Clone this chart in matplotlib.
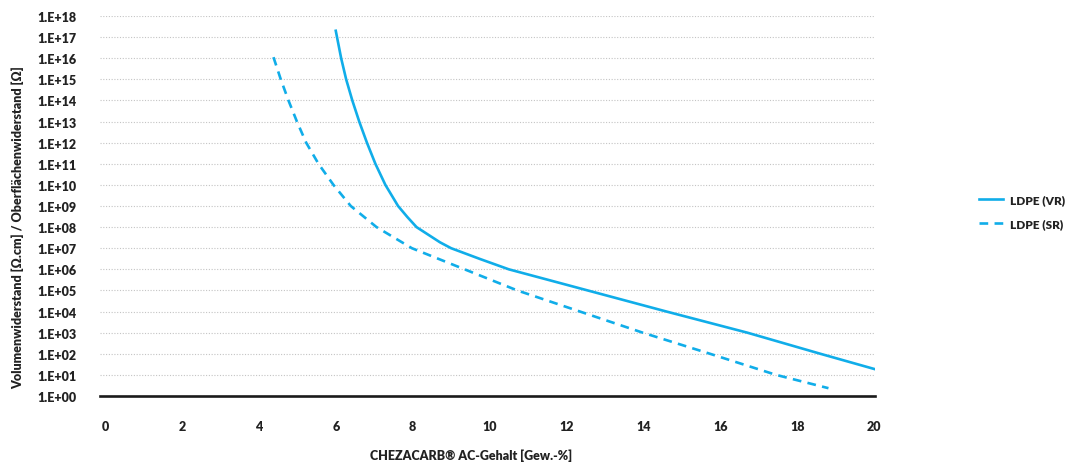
import numpy as np
import matplotlib.pyplot as plt
from matplotlib import font_manager

# LDPE volume resistivity (VR) and surface resistivity (SR) (log10 values)
vr_x = [6.0, 6.14, 6.27, 6.43, 6.61, 6.81, 7.03, 7.29, 7.62, 7.86, 8.1, 8.71, 9.0, 9.75, 10.5, 12.55, 14.6, 16.7, 18.6, 20.0]
vr_log = [17.3, 16, 15, 14, 13, 12, 11, 10, 9, 8.48, 8, 7.28, 7, 6.49, 6, 5, 4, 3, 2, 1.28]

sr_x = [4.38, 4.57, 4.77, 4.99, 5.23, 5.55, 5.94, 6.39, 7.06, 7.98, 9.35, 10.72, 12.35, 13.98, 15.73, 17.45, 18.81]
sr_log = [16.05, 15, 14, 13, 12, 11, 10, 9, 8, 7, 6, 5, 4, 3, 2, 1, 0.37]

x_ticks = [0, 2, 4, 6, 8, 10, 12, 14, 16, 18, 20]
y_exps = list(range(0, 19))
y_labels = ['1.E+%02d' % e for e in y_exps]

# pick a family that really has a bold face
family = 'DejaVu Sans'
for name in ['Lato', 'Roboto', 'Open Sans', 'Inter', 'Noto Sans']:
    try:
        f = font_manager.findfont(font_manager.FontProperties(family=name, weight='heavy'),
                                  fallback_to_default=False)
    except Exception:
        continue
    if any(k in f.lower() for k in ['bold', 'black', 'heavy']):
        family = name
        break

blue = '#10ade9'
plt.rcParams['font.family'] = [family, 'DejaVu Sans']
plt.rcParams['font.weight'] = 'heavy'

fig = plt.figure(figsize=(10.73, 4.64), dpi=100)
ax = fig.add_axes([100 / 1073, 1 - 397 / 464, 775 / 1073, 380 / 464])

ax.plot(vr_x, 10 ** np.array(vr_log), color=blue, lw=1.9, label='LDPE (VR)')
ax.plot(sr_x, 10 ** np.array(sr_log), color=blue, lw=1.9, dashes=(3.3, 2.4), label='LDPE (SR)')

ax.set_yscale('log')
ax.set_ylim(1, 1e18)
ax.set_xlim(-0.13, 20.02)
ax.set_yticks([10.0 ** e for e in y_exps])
ax.set_yticklabels(y_labels)
ax.yaxis.set_minor_locator(plt.NullLocator())
ax.set_xticks(x_ticks)

ax.grid(axis='y', color='#c4c4c4', lw=0.8, ls=(0, (1, 1.5)))
ax.set_axisbelow(True)
for s in ['top', 'right', 'left']:
    ax.spines[s].set_visible(False)
ax.spines['bottom'].set_color('#1a1a1a')
ax.spines['bottom'].set_linewidth(1.9)
ax.tick_params(axis='both', length=0, labelsize=9, colors='#222222')
ax.tick_params(axis='y', pad=17)
ax.tick_params(axis='x', pad=17)

fig.text(18 / 1073, 1 - 228 / 464, 'Volumenwiderstand [Ω.cm] / Oberflächenwiderstand [Ω]',
         rotation=90, ha='center', va='center', fontsize=9, color='#222222')
fig.text(471 / 1073, 1 - 456 / 464, 'CHEZACARB® AC-Gehalt [Gew.-%]',
         ha='center', va='center', fontsize=9, color='#222222')

leg = fig.legend(loc='center left', bbox_to_anchor=(968 / 1073, 1 - 213 / 464), frameon=False,
                 fontsize=8.5, handlelength=2.1, labelspacing=1.1, handletextpad=0.6)
for t in leg.get_texts():
    t.set_color('#222222')

fig.savefig('out.png', dpi=100)
